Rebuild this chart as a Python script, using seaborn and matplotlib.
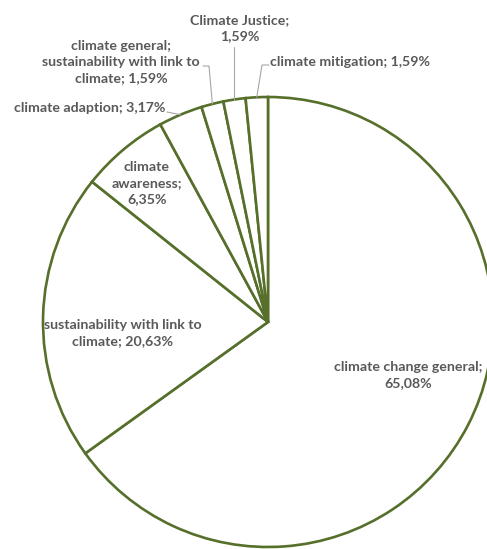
import numpy as np
import matplotlib
matplotlib.use('Agg')
import matplotlib.pyplot as plt
import seaborn as sns

# topic shares, in drawing order (clockwise from 12 o'clock)
topics = ['climate change general', 'sustainability with link to climate',
          'climate awareness', 'climate adaption',
          'climate general; sustainability with link to climate',
          'Climate Justice', 'climate mitigation']
shares = [65.08, 20.63, 6.35, 3.17, 1.59, 1.59, 1.59]
label_texts = ['climate change general;\n65,08%',
               'sustainability with link to\nclimate; 20,63%',
               'climate\nawareness;\n6,35%',
               'climate adaption; 3,17%',
               'climate general;\nsustainability with link to\nclimate; 1,59%',
               'Climate Justice;\n1,59%',
               'climate mitigation; 1,59%']

sns.set_style('white')
plt.rcParams['font.family'] = ['Lato', 'DejaVu Sans']

W, H = 487, 549
green = '#566f2a'
grey_txt = '#595959'
grey_line = '#a6a6a6'


def P(x, y):
    # pixel coords (top-left origin) -> data coords
    return x, H - y


fig = plt.figure(figsize=(W / 100, H / 100), dpi=100)
ax = fig.add_axes([0, 0, 1, 1])

cx, cy = P(268, 322)
R = 225
wedges, _ = ax.pie(shares, center=(cx, cy), radius=R, startangle=90,
                   counterclock=False,
                   wedgeprops=dict(facecolor='white', edgecolor=green,
                                   linewidth=1.9, joinstyle='miter'))
ax.set_xlim(0, W)
ax.set_ylim(0, H)
ax.set_aspect('auto')
ax.axis('off')


def arc_point(w):
    a = np.deg2rad((w.theta1 + w.theta2) / 2)
    return cx + R * np.cos(a), cy + R * np.sin(a)


# label positions (pixel centres) and horizontal alignment
label_pos = [(408, 375, 'center'), (123, 333, 'center'), (147, 183, 'center'),
             (165, 108, 'right'), (121, 62, 'center'), (240, 28, 'center'),
             (270, 62, 'left')]

for txt, (x, y, ha) in zip(label_texts, label_pos):
    tx, ty = P(x, y)
    ax.text(tx, ty, txt, ha=ha, va='center', color=grey_txt,
            fontsize=10.2, fontweight='bold', linespacing=1.4)

# leader lines for the small slices
ax_ad = arc_point(wedges[3])
ax.plot([P(167, 0)[0], ax_ad[0]], [P(0, 112)[1], ax_ad[1]], color=grey_line, lw=0.8)

ag = arc_point(wedges[4])
ax.plot([P(203, 0)[0], P(209, 0)[0], ag[0]], [P(0, 66)[1], P(0, 66)[1], ag[1]],
        color=grey_line, lw=0.8)

aj = arc_point(wedges[5])
ax.plot([aj[0], aj[0]], [P(0, 47)[1], aj[1]], color=grey_line, lw=0.8)

am = arc_point(wedges[6])
ax.plot([P(269, 0)[0], P(262, 0)[0], am[0]], [P(0, 65)[1], P(0, 65)[1], am[1]],
        color=grey_line, lw=0.8)

fig.savefig('out.png', dpi=100, facecolor='white')
